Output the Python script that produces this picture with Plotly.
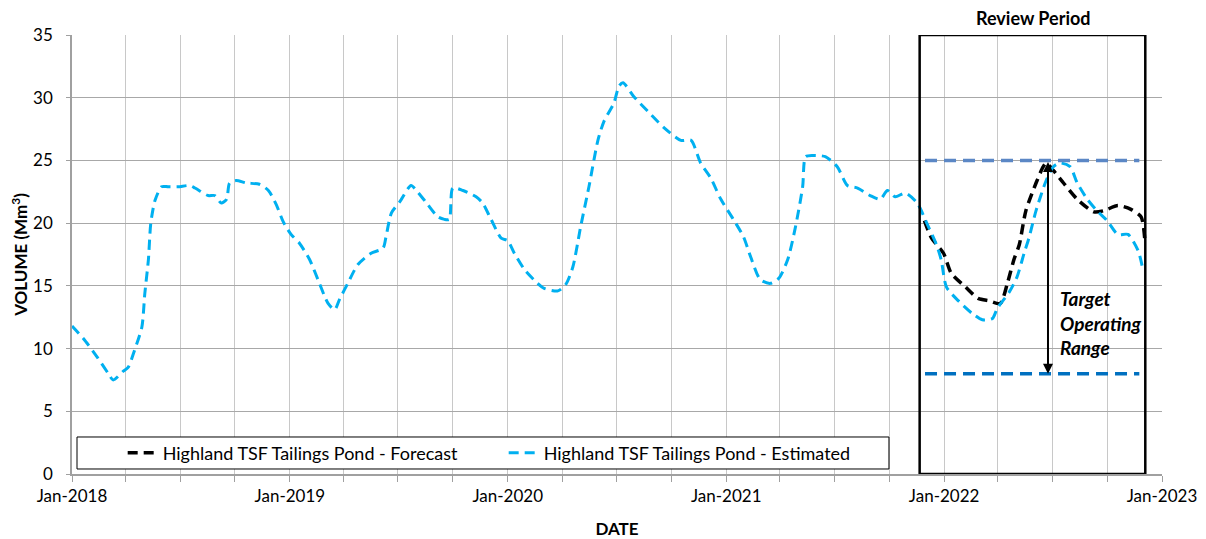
import plotly.graph_objects as go

# ---------------- data ----------------
est_dates = [
    "2018-01-01", "2018-01-20", "2018-02-11", "2018-03-03", "2018-03-11", "2018-03-28",
    "2018-04-05", "2018-04-16", "2018-04-28", "2018-05-03", "2018-05-09", "2018-05-13",
    "2018-05-20", "2018-05-31", "2018-06-11", "2018-06-28", "2018-07-17", "2018-07-26",
    "2018-08-17", "2018-08-28", "2018-09-08", "2018-09-17", "2018-09-22", "2018-10-03",
    "2018-10-20", "2018-11-11", "2018-11-26", "2018-12-09", "2018-12-21", "2019-01-03",
    "2019-01-17", "2019-02-03", "2019-02-17", "2019-03-06", "2019-03-17", "2019-03-25",
    "2019-04-08", "2019-04-25", "2019-05-17", "2019-06-06", "2019-06-11", "2019-06-20",
    "2019-07-04", "2019-07-23", "2019-08-01", "2019-08-18", "2019-09-06", "2019-09-17",
    "2019-09-25", "2019-10-01", "2019-10-18", "2019-11-09", "2019-11-20", "2019-12-04",
    "2019-12-21", "2020-01-01", "2020-01-12", "2020-01-29", "2020-02-20", "2020-03-02",
    "2020-03-25", "2020-04-07", "2020-04-19", "2020-05-02", "2020-05-16", "2020-05-31",
    "2020-06-10", "2020-06-27", "2020-07-05", "2020-07-12", "2020-07-30", "2020-08-23",
    "2020-09-19", "2020-10-17", "2020-11-03", "2020-11-19", "2020-12-06", "2020-12-23",
    "2021-01-13", "2021-01-30", "2021-02-11", "2021-02-27", "2021-03-16", "2021-03-30",
    "2021-04-14", "2021-04-27", "2021-05-09", "2021-05-14", "2021-05-26", "2021-06-16",
    "2021-07-06", "2021-07-23", "2021-08-09", "2021-08-30", "2021-09-16", "2021-09-28",
    "2021-10-11", "2021-10-28", "2021-11-17", "2021-12-02", "2021-12-19", "2021-12-27",
    "2022-01-05", "2022-01-25", "2022-02-17", "2022-03-06", "2022-03-23", "2022-03-31",
    "2022-04-20", "2022-05-03", "2022-05-15", "2022-05-23", "2022-06-04", "2022-06-21",
    "2022-07-03", "2022-07-14", "2022-07-31", "2022-08-12", "2022-08-29", "2022-09-14",
    "2022-10-01", "2022-10-19", "2022-11-05", "2022-11-22", "2022-11-30",
]
est_volume = [
    11.8, 10.8, 9.4, 8.0, 7.5, 8.2,
    8.5, 9.9, 11.7, 14.4, 17.1, 20.0,
    21.8, 22.9, 22.9, 22.9, 23.0, 22.8,
    22.2, 22.2, 21.6, 21.9, 23.2, 23.4,
    23.2, 23.1, 22.6, 21.5, 20.1, 19.1,
    18.4, 17.1, 15.5, 13.6, 13.1, 13.9,
    15.2, 16.7, 17.6, 18.0, 18.9, 20.8,
    21.7, 23.0, 22.6, 21.6, 20.5, 20.3,
    20.3, 22.8, 22.6, 22.1, 21.6, 20.3,
    18.8, 18.6, 17.6, 16.3, 15.2, 14.8,
    14.6, 15.1, 16.5, 19.7, 22.9, 26.6,
    28.1, 29.6, 30.9, 31.2, 30.1, 28.9,
    27.6, 26.6, 26.6, 24.8, 23.6, 21.9,
    20.3, 18.9, 17.3, 15.5, 15.2, 15.6,
    17.1, 19.7, 22.9, 25.3, 25.4, 25.3,
    24.5, 23.0, 22.8, 22.2, 21.9, 22.6,
    22.1, 22.4, 21.6, 20.1, 18.3, 17.1,
    14.9, 13.8, 12.8, 12.3, 12.4, 13.2,
    14.5, 15.7, 17.6, 18.8, 21.0, 23.4,
    24.5, 24.8, 24.5, 23.2, 21.9, 21.0,
    20.2, 19.1, 19.1, 17.8, 16.3,
]

fc_dates = [
    "2021-11-29", "2021-12-11", "2021-12-31", "2022-01-13", "2022-02-06", "2022-02-27",
    "2022-03-18", "2022-04-05", "2022-04-17", "2022-04-28", "2022-05-07", "2022-05-18",
    "2022-06-04", "2022-06-16", "2022-06-21", "2022-07-03", "2022-07-20", "2022-08-12",
    "2022-09-09", "2022-09-26", "2022-10-19", "2022-11-10", "2022-11-27", "2022-12-03",
]
fc_volume = [
    20.2, 18.8, 17.6, 16.0, 14.9, 14.0,
    13.8, 13.6, 15.2, 17.1, 18.3, 21.0,
    23.2, 24.5, 24.8, 24.2, 23.2, 21.9,
    20.9, 21.0, 21.4, 21.1, 20.5, 18.8,
]

series_names = ["Highland TSF Tailings Pond - Forecast", "Highland TSF Tailings Pond - Estimated"]

target_upper = 25
target_lower = 8
target_start = "2021-11-30"
target_end = "2022-11-24"
review_start = "2021-11-21"
review_end = "2022-12-04"
review_mid = "2022-05-31"
arrow_date = "2022-06-24"
label_date = "2022-07-10"

x_range = ["2018-01-01", "2023-01-01"]
y_ticks = [0, 5, 10, 15, 20, 25, 30, 35]

FONT = "Lato"

# ---------------- figure ----------------
fig = go.Figure()

fig.add_trace(go.Scatter(
    x=fc_dates, y=fc_volume, name=series_names[0], mode="lines",
    line=dict(color="black", width=3.5, dash="10px,6px", shape="spline", smoothing=0.7),
))
fig.add_trace(go.Scatter(
    x=est_dates, y=est_volume, name=series_names[1], mode="lines",
    line=dict(color="#00B0F0", width=3, dash="10px,6px", shape="spline", smoothing=0.7),
))

# target range lines
fig.add_trace(go.Scatter(
    x=[target_start, target_end], y=[target_upper, target_upper], mode="lines",
    line=dict(color="#5B87C5", width=3.5, dash="12px,7px"), showlegend=False, hoverinfo="skip",
))
fig.add_trace(go.Scatter(
    x=[target_start, target_end], y=[target_lower, target_lower], mode="lines",
    line=dict(color="#0070C0", width=3.5, dash="12px,7px"), showlegend=False, hoverinfo="skip",
))

# review period box
fig.add_shape(type="rect", xref="x", yref="y", x0=review_start, x1=review_end,
              y0=0, y1=35, line=dict(color="black", width=2.5), fillcolor="rgba(0,0,0,0)",
              layer="above")

# legend box
fig.add_shape(type="rect", xref="paper", yref="paper", x0=0.0046, x1=0.7495,
              y0=0.0114, y1=0.0843, line=dict(color="black", width=1), fillcolor="white",
              layer="above")

# double arrow
fig.add_annotation(x=arrow_date, y=target_lower, ax=arrow_date, ay=target_upper,
                   xref="x", yref="y", axref="x", ayref="y", text="", showarrow=True,
                   arrowhead=2, startarrowhead=2, arrowside="end+start", arrowsize=1,
                   arrowwidth=2, arrowcolor="black", startstandoff=0, standoff=0)

fig.add_annotation(x=label_date, y=12.0, xref="x", yref="y", xanchor="left", yanchor="middle",
                   text="<b><i>Target<br>Operating<br>Range</i></b>", showarrow=False, align="left",
                   font=dict(family=FONT, size=19, color="black"))

# Review Period label
fig.add_annotation(x=review_mid, y=1.039, xref="x", yref="paper", text="<b>Review Period</b>",
                   showarrow=False, xanchor="center", yanchor="middle",
                   font=dict(family=FONT, size=18, color="black"))

# page body adds an 8px offset: figure shrunk by 8px and left/top margins reduced by 8px
fig.update_layout(
    width=1198, height=531,
    margin=dict(l=64, r=44, t=27, b=65, autoexpand=False),
    paper_bgcolor="white", plot_bgcolor="white",
    font=dict(family=FONT, size=17, color="black"),
    showlegend=True,
    legend=dict(orientation="h", x=0.0465, xanchor="left", y=0.048, yanchor="middle",
                bgcolor="rgba(0,0,0,0)", borderwidth=0, entrywidth=336,
                font=dict(family=FONT, size=18, color="black"), itemwidth=30),
)

fig.update_xaxes(
    type="date", range=x_range, dtick="M12", tick0="2018-01-01", tickformat="%b-%Y",
    ticks="outside", ticklen=6, tickcolor="#a0a0a0", automargin=False,
    showgrid=True, gridcolor="#c8c8c8", gridwidth=1.3,
    minor=dict(dtick="M3", tick0="2018-01-01", showgrid=True, gridcolor="#c8c8c8", gridwidth=1.3,
               ticks="outside", ticklen=6, tickcolor="#a0a0a0"),
    showline=True, linecolor="#a0a0a0", linewidth=1.5,
    title=dict(text="<b>DATE</b>", font=dict(family=FONT, size=17, color="black"), standoff=20),
    tickfont=dict(family=FONT, size=17, color="black"),
    zeroline=False,
)
fig.update_yaxes(
    range=[0, 35], tickvals=y_ticks, automargin=False,
    ticks="outside", ticklen=4, tickcolor="#a0a0a0", ticklabelstandoff=10,
    showgrid=True, gridcolor="#a8a8a8", gridwidth=1.3,
    showline=True, linecolor="#a0a0a0", linewidth=1.5,
    title=dict(text="<b>VOLUME (Mm<sup>3</sup>)</b>", font=dict(family=FONT, size=17, color="black"),
               standoff=14),
    tickfont=dict(family=FONT, size=17, color="black"),
    zeroline=False,
)

fig.write_html("out.html")
